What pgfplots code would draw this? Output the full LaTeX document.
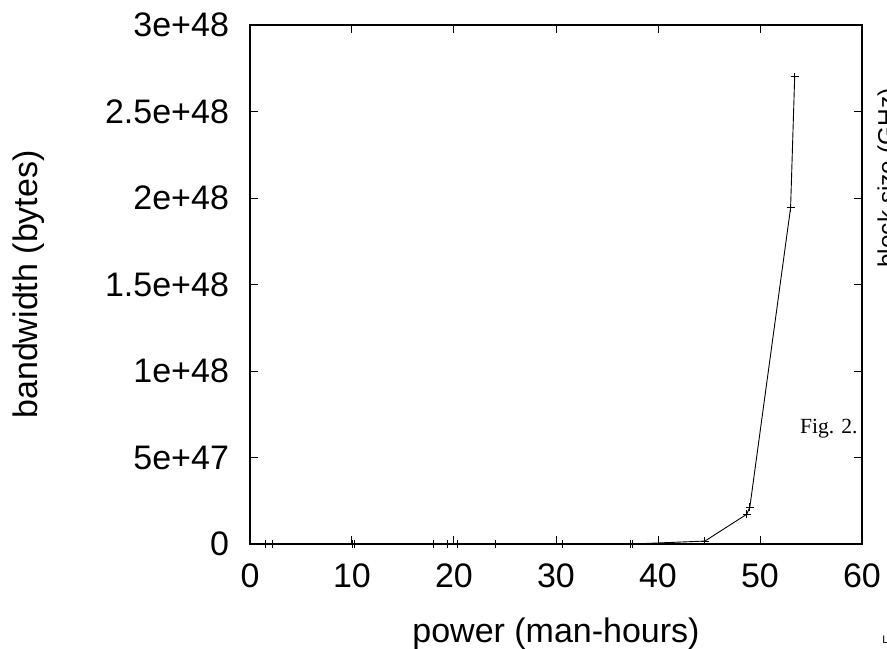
\documentclass[border=0pt]{standalone}
\usepackage{fontspec}
\setmainfont{Liberation Sans}
\newfontfamily\seriffont{Liberation Serif}
\usepackage{pgfplots}
\pgfplotsset{compat=1.18}
\begin{document}
\begin{tikzpicture}
\useasboundingbox (-125pt,-52pt) rectangle (318.5pt,272pt);
\begin{axis}[
  at={(0,0)}, anchor=south west,
  width=306pt, height=259.5pt, scale only axis,
  xmin=0, xmax=60, ymin=0, ymax=3e48,
  xtick={0,10,20,30,40,50,60},
  xticklabels={0,10,20,30,40,50,60},
  ytick={0,5e47,1e48,1.5e48,2e48,2.5e48,3e48},
  yticklabels={0,5e+47,1e+48,1.5e+48,2e+48,2.5e+48,3e+48},
  scaled x ticks=false, scaled y ticks=false,
  tick align=inside,
  major tick length=4pt,
  minor tick num=0,
  axis line style={line width=0.6pt, black},
  every tick/.style={black, line width=0.5pt},
  ticklabel style={font=\fontsize{17}{20}\selectfont},
  xticklabel style={yshift=-6.5pt},
  yticklabel style={xshift=-7pt},
  xlabel={power (man-hours)},
  ylabel={bandwidth (bytes)},
  every axis x label/.style={at={(axis description cs:0.5,-0.19)}, anchor=base, font=\fontsize{17}{20}\selectfont},
  every axis y label/.style={at={(axis description cs:-0.348,0.5)}, rotate=90, anchor=base, font=\fontsize{17}{20}\selectfont},
  clip=false,
]
\addplot[black, line width=0.45pt, mark=+, mark size=2pt, mark options={line width=0.45pt}] coordinates {
  (1.47,0) (2.22,0) (10.0,0) (10.2,0) (18.0,0) (19.4,0) (20.3,0) (24.1,0)
  (30.6,0) (37.3,0) (37.5,0) (44.6,1.7e46) (48.7,1.72e47) (49.0,2.12e47)
  (53.0,1.944e48) (53.4,2.70e48)
};
\node[anchor=base east, inner sep=0pt, font=\seriffont\fontsize{10.8}{12}\selectfont] at (axis description cs:0.9935,0.212) {Fig. 2.};
\node[anchor=north, inner sep=0pt, rotate=90, font=\fontsize{12.2}{14}\selectfont] at (axis description cs:1.0245,0.705) {block size (GHz)};
\node[anchor=base west, inner sep=0pt, font=\fontsize{5.5}{6}\selectfont] at (axis description cs:1.0327,-0.191) {L};
\end{axis}
\end{tikzpicture}
\end{document}
